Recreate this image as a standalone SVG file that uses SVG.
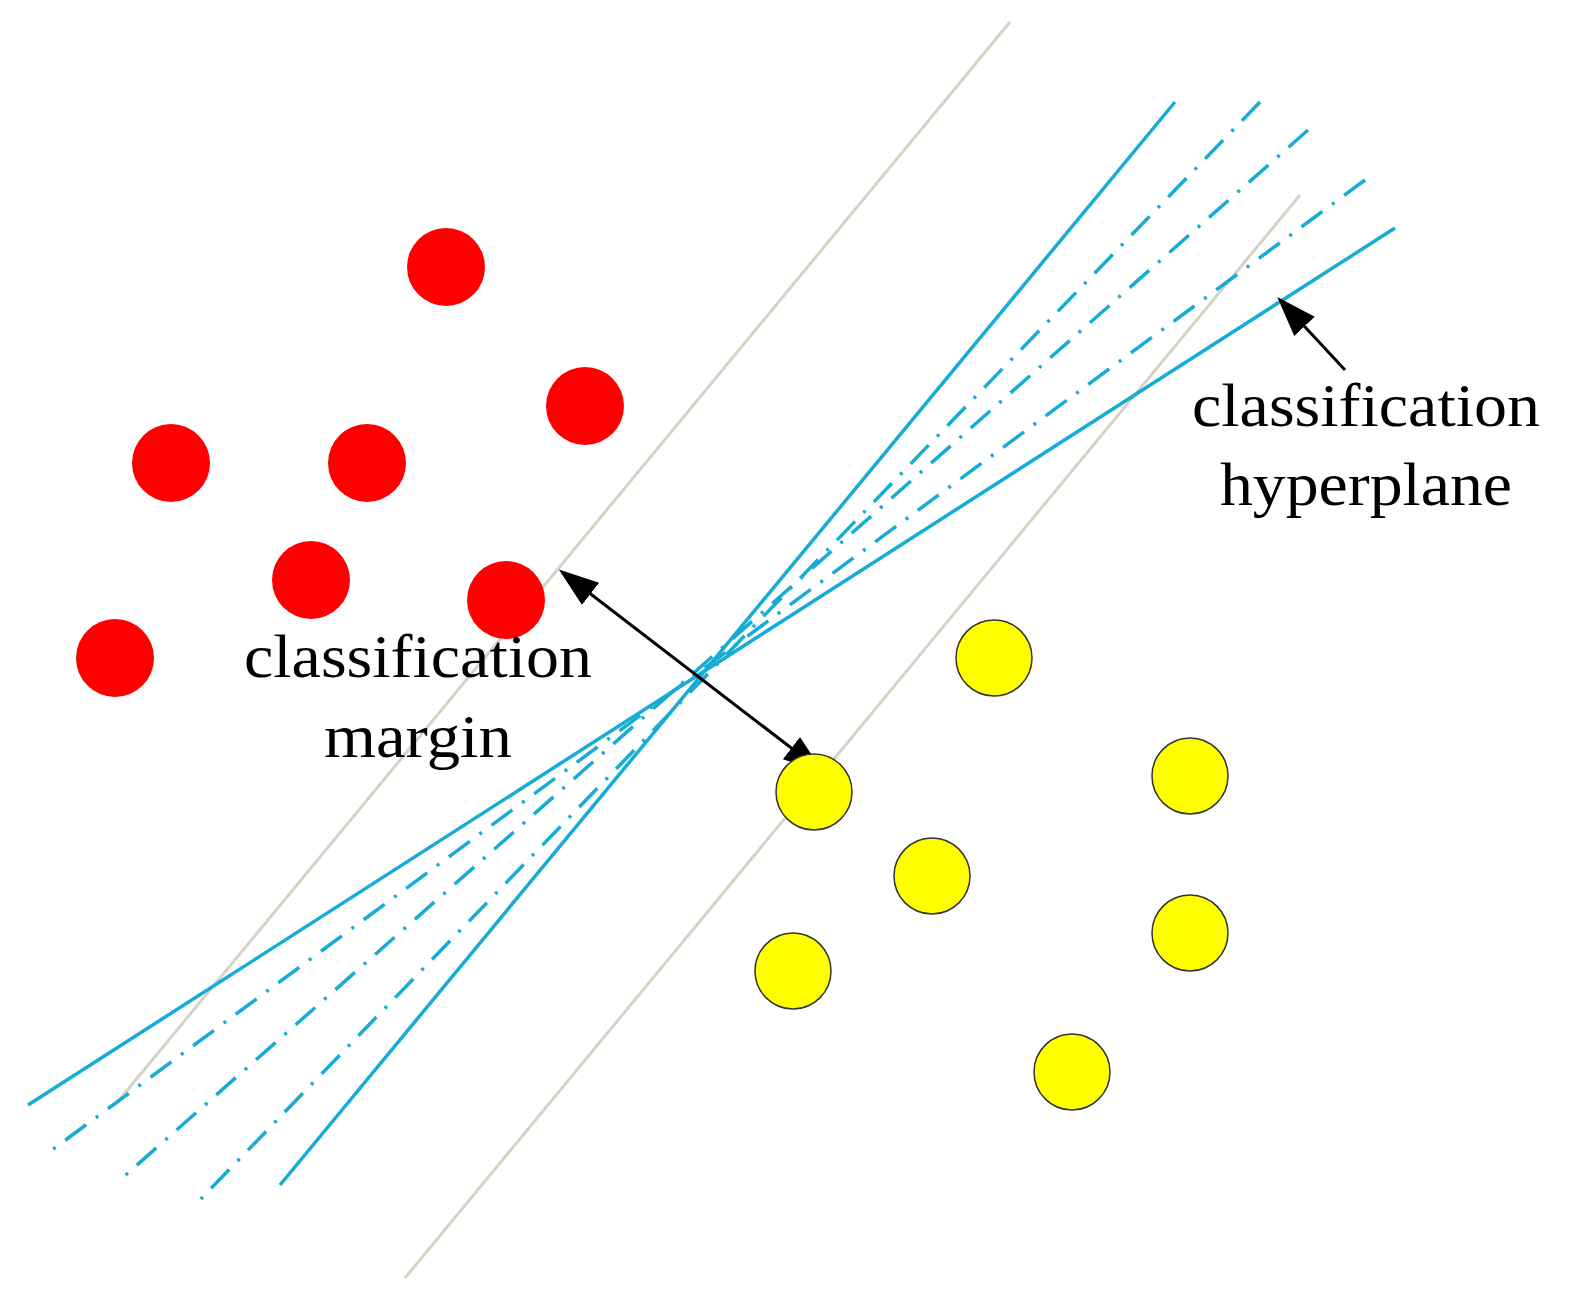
<svg xmlns="http://www.w3.org/2000/svg" width="1574" height="1312" viewBox="0 0 1574 1312">
<defs>
<marker id="ab" viewBox="0 0 10 10" refX="9" refY="5" markerWidth="40" markerHeight="40" markerUnits="userSpaceOnUse" orient="auto-start-reverse"><path d="M0,1.5 L10,5 L0,8.5 z" fill="#000"/></marker>
</defs>
<style>
.g{stroke:#d4d4c4;stroke-width:3;fill:none}
.b{stroke:#16acd6;stroke-width:3.5;fill:none}
.dd{stroke-dasharray:26 12 3 12}
.r{fill:#ff0000}
.y{fill:#ffff00;stroke:#333;stroke-width:1.5}
text{font-family:"Liberation Serif",serif;font-size:62px;fill:#000;text-anchor:middle}
</style>
<rect width="1574" height="1312" fill="#fff"/>
<g id="connectors">
<line class="g" x1="1010" y1="22" x2="115" y2="1105"/>
<line class="g" x1="1300" y1="195" x2="405" y2="1278"/>
<line class="b" x1="1175" y1="102" x2="280" y2="1185"/>
<line class="b dd" x1="1260" y1="102" x2="195" y2="1205"/>
<line class="b dd" x1="1308" y1="130" x2="120" y2="1180"/>
<line class="b dd" x1="1365" y1="180" x2="52" y2="1150"/>
<line class="b" x1="1395" y1="228" x2="28" y2="1105"/>
<line x1="562" y1="572" x2="820" y2="770" stroke="#000" stroke-width="3" marker-start="url(#ab)" marker-end="url(#ab)"/>
<line x1="1345" y1="370" x2="1280" y2="300" stroke="#000" stroke-width="3" marker-end="url(#ab)"/>
</g>
<g id="red">
<circle class="r" cx="446" cy="267" r="39"/>
<circle class="r" cx="585" cy="406" r="39"/>
<circle class="r" cx="171" cy="463" r="39"/>
<circle class="r" cx="367" cy="463" r="39"/>
<circle class="r" cx="311" cy="580" r="39"/>
<circle class="r" cx="506" cy="600" r="39"/>
<circle class="r" cx="115" cy="658" r="39"/>
</g>
<g id="yellow">
<circle class="y" cx="994" cy="658" r="38"/>
<circle class="y" cx="814" cy="792" r="38"/>
<circle class="y" cx="1190" cy="776" r="38"/>
<circle class="y" cx="932" cy="876" r="38"/>
<circle class="y" cx="1190" cy="933" r="38"/>
<circle class="y" cx="793" cy="971" r="38"/>
<circle class="y" cx="1072" cy="1072" r="38"/>
</g>
<g id="label-margin">
<text x="418" y="677" textLength="348" lengthAdjust="spacingAndGlyphs">classification</text>
<text x="418" y="757" textLength="188" lengthAdjust="spacingAndGlyphs">margin</text>
</g>
<g id="label-hyperplane">
<text x="1366" y="426" textLength="348" lengthAdjust="spacingAndGlyphs">classification</text>
<text x="1366" y="505" textLength="292" lengthAdjust="spacingAndGlyphs">hyperplane</text>
</g>
</svg>
